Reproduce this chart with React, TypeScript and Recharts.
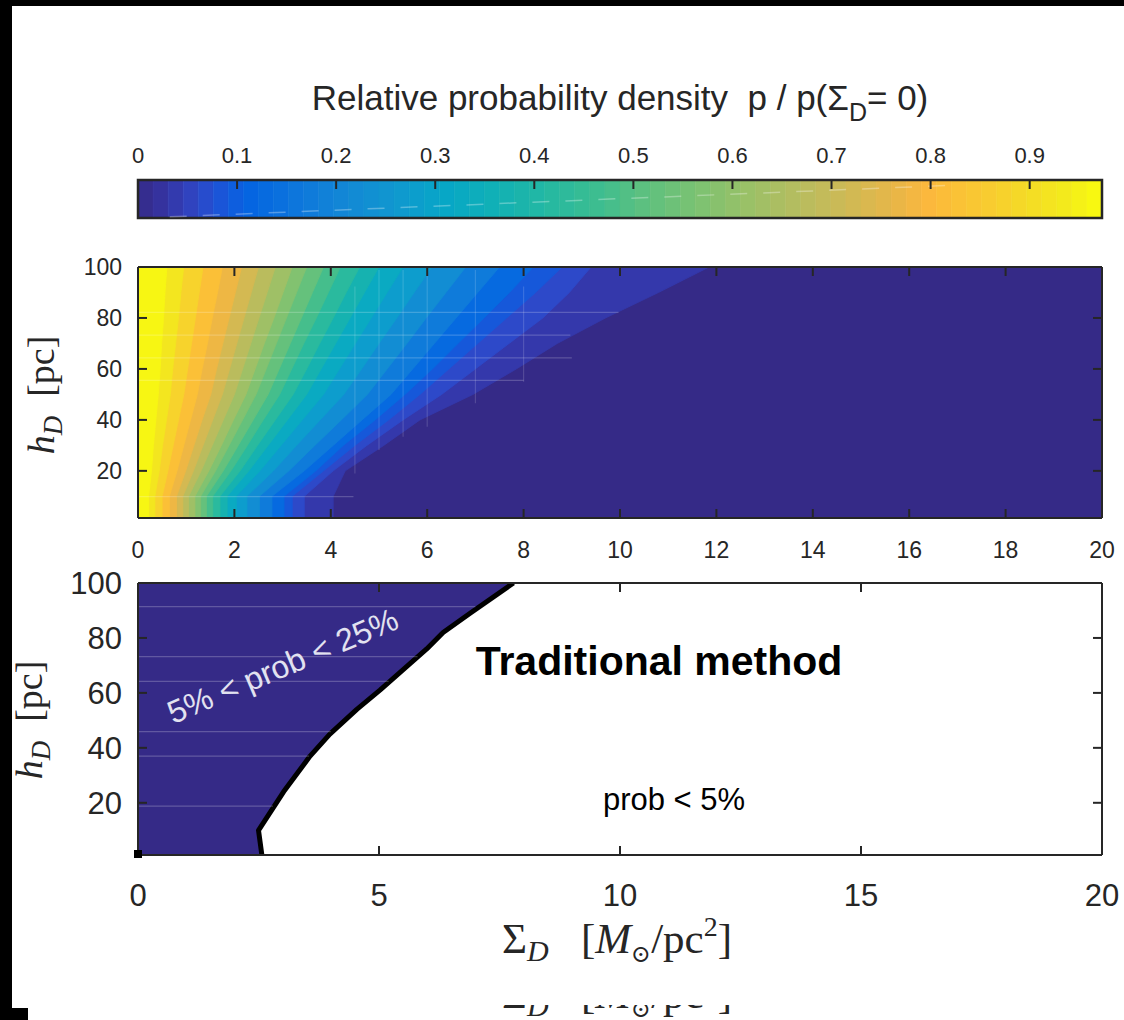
import React from 'react';
import {
  ComposedChart,
  Area,
  Line,
  XAxis,
  YAxis,
  ReferenceArea,
  ReferenceLine,
  ReferenceDot,
  CartesianGrid,
} from 'recharts';

// ------------------------------------------------------------------ data
const COLORBAR_MAX = 0.973;
const COLORBAR_TICKS = [0, 0.1, 0.2, 0.3, 0.4, 0.5, 0.6, 0.7, 0.8, 0.9];
const COLORBAR_STEPS = 64;
const PARULA_STOPS: [number, string][] = [
  [0.0, '#352a87'], [0.03, '#3535a5'], [0.06, '#2f47c7'], [0.09, '#1459dc'],
  [0.115, '#0466e1'], [0.16, '#0d76dc'], [0.21, '#1388d5'], [0.26, '#1098cf'],
  [0.31, '#07a7c7'], [0.36, '#10b0b6'], [0.41, '#23b8a3'], [0.46, '#3bbd91'],
  [0.51, '#5cc080'], [0.56, '#79c273'], [0.61, '#97c168'], [0.66, '#b2bd60'],
  [0.71, '#ccba56'], [0.76, '#e6b649'], [0.8, '#fcb83c'], [0.85, '#f9c932'],
  [0.9, '#f4dc25'], [0.94, '#f3ec1b'], [0.973, '#f9fb0e'],
];

// top panel: contour levels of p/p(0) and their Sigma_D position at each h_D
const HEATMAP_H = [1.5, 10, 20, 30, 40, 50, 60, 70, 80, 90, 100];
const CONTOUR_LEVELS = [0.02, 0.05, 0.075, 0.1, 0.15, 0.2, 0.25, 0.3, 0.35, 0.4, 0.45, 0.5, 0.55, 0.6, 0.65, 0.7, 0.75, 0.8, 0.85, 0.9, 0.95];
const CONTOUR_SIGMA: number[][] = [
  [4.05, 4.05, 4.3, 5.1, 5.85, 6.95, 7.85, 8.7, 9.7, 10.8, 11.85],
  [3.45, 3.45, 4.05, 4.75, 5.5, 6.3, 7.0, 7.7, 8.4, 8.95, 9.4],
  [3.2, 3.2, 3.85, 4.5, 5.2, 5.85, 6.45, 7.05, 7.65, 8.25, 8.8],
  [3.03, 3.03, 3.69, 4.26, 4.92, 5.54, 6.11, 6.64, 7.18, 7.71, 8.2],
  [2.78, 2.78, 3.45, 4.05, 4.65, 5.25, 5.7, 6.15, 6.6, 7.05, 7.5],
  [2.52, 2.52, 3.13, 3.67, 4.22, 4.76, 5.17, 5.58, 5.98, 6.39, 6.8],
  [2.26, 2.26, 2.81, 3.29, 3.78, 4.27, 4.64, 5.0, 5.37, 5.73, 6.1],
  [2.04, 2.04, 2.53, 2.97, 3.41, 3.85, 4.18, 4.51, 4.84, 5.17, 5.5],
  [1.85, 1.85, 2.3, 2.7, 3.1, 3.5, 3.8, 4.1, 4.4, 4.7, 5.0],
  [1.7, 1.7, 2.12, 2.48, 2.85, 3.22, 3.5, 3.77, 4.05, 4.32, 4.6],
  [1.55, 1.55, 1.93, 2.27, 2.6, 2.94, 3.19, 3.44, 3.7, 3.95, 4.2],
  [1.42, 1.42, 1.77, 2.08, 2.39, 2.7, 2.93, 3.16, 3.39, 3.62, 3.85],
  [1.3, 1.3, 1.61, 1.89, 2.17, 2.45, 2.66, 2.87, 3.08, 3.29, 3.5],
  [1.18, 1.18, 1.47, 1.73, 1.98, 2.24, 2.43, 2.62, 2.82, 3.01, 3.2],
  [1.05, 1.05, 1.31, 1.54, 1.77, 2.0, 2.17, 2.34, 2.51, 2.68, 2.85],
  [0.93, 0.93, 1.15, 1.35, 1.55, 1.75, 1.9, 2.05, 2.2, 2.35, 2.5],
  [0.8, 0.8, 0.99, 1.16, 1.33, 1.51, 1.63, 1.76, 1.89, 2.02, 2.15],
  [0.65, 0.65, 0.81, 0.95, 1.09, 1.23, 1.33, 1.44, 1.54, 1.65, 1.75],
  [0.5, 0.5, 0.62, 0.73, 0.84, 0.95, 1.03, 1.11, 1.19, 1.27, 1.35],
  [0.35, 0.35, 0.44, 0.51, 0.59, 0.67, 0.72, 0.78, 0.84, 0.89, 0.95],
  [0.22, 0.22, 0.28, 0.32, 0.37, 0.42, 0.46, 0.49, 0.53, 0.56, 0.6],
];
const TOP_X_TICKS = [0, 2, 4, 6, 8, 10, 12, 14, 16, 18, 20];
const H_TICKS = [20, 40, 60, 80, 100];
// faint rendering streaks in top panel
const TOP_STREAK_H = [82.2, 73.3, 64.3, 55.5, 9.9];
const TOP_STREAK_H_END = [9.97, 8.97, 9.0, 8.0, 4.47];
const TOP_STREAK_X = [4.5, 5.0, 5.5, 6.0, 7.0, 8.0];
const TOP_STREAK_X_FROM = [19, 28.2, 33.4, 37.3, 46.5, 55];
const TOP_STREAK_X_TO = [92.3, 98.8, 98.8, 98.8, 98.8, 92.3];

// bottom panel: 5% boundary of the traditional method
const BOUNDARY_H = [1, 10, 24, 37, 45, 54, 61, 76, 82, 89, 100];
const BOUNDARY_SIGMA = [2.57, 2.5, 3.02, 3.57, 3.98, 4.54, 5.02, 5.99, 6.33, 6.89, 7.79];
const BOTTOM_X_TICKS = [0, 5, 10, 15, 20];
const BOTTOM_STREAK_H = [91.4, 73.2, 64.2, 45.9, 37, 18.8];
const BOTTOM_STREAK_END = [7.0, 5.8, 5.2, 4.0, 3.55, 2.8];

// ------------------------------------------------------------------ helpers
const SANS = '"Liberation Sans", Arial, Helvetica, sans-serif';
const SERIF = '"Liberation Serif", "DejaVu Serif", "Times New Roman", serif';
const AX = '#262626';
const NAVY = '#352a87';
const W = 1124;

function hexRgb(h: string) {
  return [parseInt(h.slice(1, 3), 16), parseInt(h.slice(3, 5), 16), parseInt(h.slice(5, 7), 16)];
}
function parula(p: number) {
  const s = PARULA_STOPS;
  if (p <= s[0][0]) return s[0][1];
  for (let i = 1; i < s.length; i++) {
    if (p <= s[i][0]) {
      const t = (p - s[i - 1][0]) / (s[i][0] - s[i - 1][0]);
      const a = hexRgb(s[i - 1][1]);
      const b = hexRgb(s[i][1]);
      const c = a.map((v, k) => Math.round(v + (b[k] - v) * t));
      return `rgb(${c[0]},${c[1]},${c[2]})`;
    }
  }
  return s[s.length - 1][1];
}

const CB_DATA = [{ p: 0, y: 0 }, { p: COLORBAR_MAX, y: 0 }];
const CB_BANDS = Array.from({ length: COLORBAR_STEPS }, (_, i) => {
  const w = COLORBAR_MAX / COLORBAR_STEPS;
  return { x1: i * w, x2: (i + 1) * w, color: parula((i + 0.5) * w) };
});

const HEAT_ROWS = HEATMAP_H.map((h, i) => {
  const row: Record<string, number> = { h };
  CONTOUR_LEVELS.forEach((_, k) => {
    row['c' + k] = CONTOUR_SIGMA[k][i];
  });
  return row;
});
const bandColor = (k: number) => {
  const lo = CONTOUR_LEVELS[k];
  const hi = k + 1 < CONTOUR_LEVELS.length ? CONTOUR_LEVELS[k + 1] : COLORBAR_MAX;
  return parula((lo + hi) / 2);
};

const BOUNDARY_ROWS = BOUNDARY_H.map((h, i) => ({ h, s: BOUNDARY_SIGMA[i] }));

// ------------------------------------------------------------------ geometry
const P2 = { left: 138, right: 1102, top: 37, bottom: 288 }; // top heatmap (chart coords)
const P3 = { left: 138, right: 1102, top: 33, bottom: 305 }; // bottom panel (chart coords)
const TICK = 9;

// ------------------------------------------------------------------ ticks
const ColorbarTick = (props: any) => {
  const { x, payload } = props;
  const v = payload.value as number;
  return (
    <g>
      <text x={x} y={163} textAnchor="middle" fontFamily={SANS} fontSize={22} fill={AX}>
        {v === 0 ? '0' : v.toFixed(1)}
      </text>
      {v > 0 && <line x1={x} x2={x} y1={180} y2={189} stroke={AX} strokeWidth={2} />}
    </g>
  );
};

const makeXTick = (P: typeof P2, fontSize: number, labelDy: number, maxV: number) => (props: any) => {
  const { x, payload } = props;
  const v = payload.value as number;
  return (
    <g>
      <text x={x} y={P.bottom + labelDy} textAnchor="middle" fontFamily={SANS} fontSize={fontSize} fill={AX}>
        {v}
      </text>
      {v > 0 && v < maxV && (
        <>
          <line x1={x} x2={x} y1={P.bottom} y2={P.bottom - TICK} stroke={AX} strokeWidth={2} />
          <line x1={x} x2={x} y1={P.top} y2={P.top + TICK} stroke={AX} strokeWidth={2} />
        </>
      )}
      {v === 0 && <line x1={P.left} x2={P.right} y1={P.top} y2={P.top} stroke={AX} strokeWidth={2} />}
    </g>
  );
};

const makeYTick = (P: typeof P2, fontSize: number, maxV: number) => (props: any) => {
  const { y, payload } = props;
  const v = payload.value as number;
  return (
    <g>
      <text x={P.left - 16} y={y} dy="0.36em" textAnchor="end" fontFamily={SANS} fontSize={fontSize} fill={AX}>
        {v}
      </text>
      {v < maxV && (
        <>
          <line x1={P.left} x2={P.left + TICK} y1={y} y2={y} stroke={AX} strokeWidth={2} />
          <line x1={P.right} x2={P.right - TICK} y1={y} y2={y} stroke={AX} strokeWidth={2} />
        </>
      )}
      {v === maxV && <line x1={P.right} x2={P.right} y1={P.top} y2={P.bottom} stroke={AX} strokeWidth={2} />}
    </g>
  );
};

const TopXTick = makeXTick(P2, 23, 40, 20);
const TopYTick = makeYTick(P2, 23, 100);
const BotXTick = makeXTick(P3, 31, 51, 20);
const BotYTick = makeYTick(P3, 31, 100);

// ------------------------------------------------------------------ charts
const Colorbar = () => (
  <ComposedChart width={W} height={240} data={CB_DATA} margin={{ top: 140, right: 22, bottom: 22, left: 138 }}>
    <XAxis
      type="number"
      dataKey="p"
      orientation="top"
      domain={[0, COLORBAR_MAX]}
      ticks={COLORBAR_TICKS}
      interval={0}
      height={40}
      axisLine={false}
      tickLine={false}
      allowDataOverflow
      tick={(p: any) => <ColorbarTick {...p} />}
    />
    <YAxis type="number" domain={[0, 1]} hide allowDataOverflow />
    {CB_BANDS.map((b, i) => (
      <ReferenceArea key={i} x1={b.x1} x2={b.x2} y1={0} y2={1} fill={b.color} fillOpacity={1} stroke={b.color} strokeWidth={0.6} />
    ))}
    <ReferenceLine
      segment={[{ x: 0.032, y: 0.03 }, { x: 0.83, y: 0.87 }]}
      stroke="#ffffff"
      strokeOpacity={0.3}
      strokeWidth={1.5}
      strokeDasharray="17 16"
    />
    <ReferenceArea x1={0} x2={COLORBAR_MAX} y1={0} y2={1} fill="none" stroke={AX} strokeWidth={2.5} />
    <Line dataKey="y" stroke="none" dot={false} activeDot={false} isAnimationActive={false} />
  </ComposedChart>
);

const Heatmap = () => (
  <ComposedChart layout="vertical" width={W} height={360} data={HEAT_ROWS} margin={{ top: 37, right: 22, bottom: 22, left: 68 }}>
    <CartesianGrid fill={NAVY} fillOpacity={1} horizontal={false} vertical={false} stroke="none" />
    {CONTOUR_LEVELS.map((_, k) => (
      <Area
        key={k}
        type="linear"
        dataKey={'c' + k}
        fill={bandColor(k)}
        fillOpacity={1}
        stroke={bandColor(k)}
        strokeWidth={0.8}
        dot={false}
        activeDot={false}
        isAnimationActive={false}
      />
    ))}
    {TOP_STREAK_H.map((h, i) => (
      <ReferenceLine key={'h' + i} segment={[{ x: 0, y: h }, { x: TOP_STREAK_H_END[i], y: h }]} stroke="#ffffff" strokeOpacity={0.2} strokeWidth={1.2} />
    ))}
    {TOP_STREAK_X.map((s, i) => (
      <ReferenceLine key={'v' + i} segment={[{ x: s, y: TOP_STREAK_X_FROM[i] }, { x: s, y: TOP_STREAK_X_TO[i] }]} stroke="#ffffff" strokeOpacity={0.15} strokeWidth={1.2} />
    ))}
    <XAxis
      type="number"
      domain={[0, 20]}
      ticks={TOP_X_TICKS}
      interval={0}
      height={50}
      allowDataOverflow
      axisLine={{ stroke: AX, strokeWidth: 2 }}
      tickLine={false}
      tick={(p: any) => <TopXTick {...p} />}
    />
    <YAxis
      type="number"
      dataKey="h"
      domain={[1.5, 100]}
      ticks={H_TICKS}
      interval={0}
      reversed
      width={70}
      allowDataOverflow
      axisLine={{ stroke: AX, strokeWidth: 2 }}
      tickLine={false}
      tick={(p: any) => <TopYTick {...p} />}
    />
  </ComposedChart>
);

const Traditional = () => (
  <ComposedChart layout="vertical" width={W} height={470} data={BOUNDARY_ROWS} margin={{ top: 33, right: 22, bottom: 65, left: 68 }}>
    <Area
      type="linear"
      dataKey="s"
      fill={NAVY}
      fillOpacity={1}
      stroke="#000000"
      strokeWidth={5}
      strokeLinejoin="round"
      dot={false}
      activeDot={false}
      isAnimationActive={false}
    />
    {BOTTOM_STREAK_H.map((h, i) => (
      <ReferenceLine key={i} segment={[{ x: 0, y: h }, { x: BOTTOM_STREAK_END[i], y: h }]} stroke="#ffffff" strokeOpacity={0.22} strokeWidth={1.2} />
    ))}
    <ReferenceDot
      x={0}
      y={1}
      r={4}
      shape={(p: any) => <rect x={p.cx - 4} y={p.cy - 5} width={8} height={8} fill="#000" />}
    />
    <XAxis
      type="number"
      domain={[0, 20]}
      ticks={BOTTOM_X_TICKS}
      interval={0}
      height={100}
      allowDataOverflow
      axisLine={{ stroke: AX, strokeWidth: 2 }}
      tickLine={false}
      tick={(p: any) => <BotXTick {...p} />}
    />
    <YAxis
      type="number"
      dataKey="h"
      domain={[1, 100]}
      ticks={H_TICKS}
      interval={0}
      reversed
      width={70}
      allowDataOverflow
      axisLine={{ stroke: AX, strokeWidth: 2 }}
      tickLine={false}
      tick={(p: any) => <BotYTick {...p} />}
    />
  </ComposedChart>
);

// ------------------------------------------------------------------ texts
const XLabel = ({ y }: { y: number }) => (
  <text x={617} y={y} textAnchor="middle" fontFamily={SERIF} fontSize={43} fill={AX} style={{ whiteSpace: 'pre' }}>
    <tspan>Σ</tspan>
    <tspan fontStyle="italic" fontSize={30} dy={8}>D</tspan>
    <tspan dy={-8}>{'   ['}</tspan>
    <tspan fontStyle="italic">M</tspan>
    <tspan fontSize={24} dy={9}>⊙</tspan>
    <tspan dy={-9}>/pc</tspan>
    <tspan fontSize={28} dy={-17}>2</tspan>
    <tspan dy={17}>]</tspan>
  </text>
);

const HLabel = ({ x, y }: { x: number; y: number }) => (
  <text
    x={x}
    y={y}
    transform={`rotate(-90 ${x} ${y})`}
    textAnchor="middle"
    fontFamily={SERIF}
    fontSize={38}
    fill={AX}
    style={{ whiteSpace: 'pre' }}
  >
    <tspan fontStyle="italic">h</tspan>
    <tspan fontStyle="italic" fontSize={27} dy={8}>D</tspan>
    <tspan dy={-8}>{'  [pc]'}</tspan>
  </text>
);

const Overlay = () => (
  <svg width={W} height={1020} style={{ position: 'absolute', left: 0, top: 0 }}>
    <defs>
      <clipPath id="cutoff">
        <rect x={0} y={1005} width={W} height={15} />
      </clipPath>
    </defs>
    <text x={620} y={110} textAnchor="middle" fontFamily={SANS} fontSize={35} fill={AX} style={{ whiteSpace: 'pre' }}>
      <tspan>{'Relative probability density  p / p(Σ'}</tspan>
      <tspan fontSize={25} dy={11}>D</tspan>
      <tspan dy={-11}>{'= 0)'}</tspan>
    </text>
    <HLabel x={54} y={395} />
    <HLabel x={42} y={720} />
    <text x={659} y={675} textAnchor="middle" fontFamily={SANS} fontWeight="bold" fontSize={41} fill="#000">
      Traditional method
    </text>
    <text x={674} y={810} textAnchor="middle" fontFamily={SANS} fontSize={31} fill="#000">
      {'prob < 5%'}
    </text>
    <text
      x={287}
      y={676}
      transform="rotate(-23 287 676)"
      textAnchor="middle"
      fontFamily={SANS}
      fontSize={32}
      fill="#e2e2f0"
    >
      {'5% < prob < 25%'}
    </text>
    <XLabel y={953} />
    <g clipPath="url(#cutoff)">
      <XLabel y={1008} />
    </g>
  </svg>
);

export default function App() {
  const TOP_BAND = 6;
  return (
    <div style={{ position: 'absolute', left: 0, top: 0, width: W, height: 1020, background: '#000', overflow: 'hidden' }}>
      <div style={{ position: 'absolute', left: 12, top: TOP_BAND, right: 0, bottom: 0, background: '#fff' }} />
      <div style={{ position: 'absolute', left: 0, top: 0 }}>
        <Colorbar />
      </div>
      <div style={{ position: 'absolute', left: 0, top: 230 }}>
        <Heatmap />
      </div>
      <div style={{ position: 'absolute', left: 0, top: 550 }}>
        <Traditional />
      </div>
      <Overlay />
      <div style={{ position: 'absolute', left: 0, top: 0, width: W, height: TOP_BAND, background: '#000' }} />
      <div style={{ position: 'absolute', left: 0, top: 0, width: 12, height: 1020, background: '#000' }} />
      <div style={{ position: 'absolute', left: 0, top: 1008, width: 28, height: 12, background: '#000' }} />
    </div>
  );
}
